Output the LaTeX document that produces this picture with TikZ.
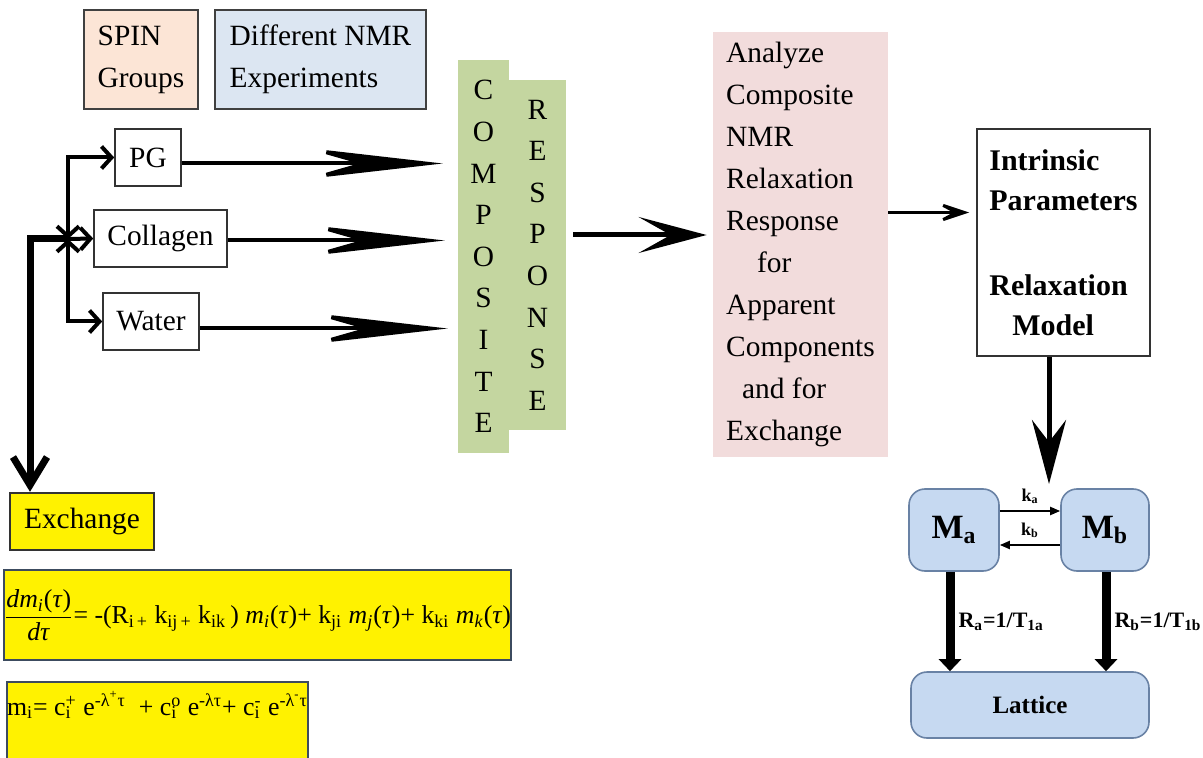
\documentclass[tikz,border=0pt]{standalone}
\usepackage{fontspec}
\setmainfont{Liberation Serif}
\usetikzlibrary{arrows.meta}

\definecolor{spinpeach}{RGB}{252,229,214}
\definecolor{nmrblue}{RGB}{220,230,242}
\definecolor{compgreen}{RGB}{196,214,160}
\definecolor{analpink}{RGB}{242,220,220}
\definecolor{magblue}{RGB}{198,217,241}
\definecolor{magedge}{RGB}{105,130,165}
\definecolor{eqedge}{RGB}{60,75,95}

\newcommand\bodyfont{\fontsize{14.7}{21}\selectfont}
\newcommand\eqfont{\fontsize{12.9}{15}\selectfont}
\newcommand\subsup[2]{\rlap{\textsubscript{#1}}\textsuperscript{#2}}

\tikzset{
  plain/.style={draw=black!80, line width=0.8pt, fill=white, inner sep=0pt, font=\bodyfont},
  headbox/.style={draw=black!75, line width=1pt, inner sep=0pt, align=left, font=\bodyfont},
  yellowbox/.style={draw=eqedge, line width=1.2pt, fill=yellow, inner sep=0pt, font=\bodyfont},
  letters/.style={fill=compgreen, inner sep=0pt, align=center, font=\fontsize{14.7}{20.8}\selectfont},
  magnet/.style={draw=magedge, line width=0.8pt, fill=magblue, rounded corners=8pt, inner sep=0pt},
  bigarrow/.style={line width=2pt, -{Stealth[length=70pt,width=16pt,inset=28pt]}},
  midarrow/.style={line width=2.5pt, -{Stealth[length=34pt,width=18pt,inset=16pt]}},
  thinarrow/.style={line width=1.5pt, -{Stealth[length=21pt,width=14pt,inset=13pt]}},
  downarrow/.style={line width=2.5pt, -{Stealth[length=32pt,width=17pt,inset=11pt]}},
  branch/.style={line width=2pt, {Straight Barb[length=5pt,width=11pt]}-{Straight Barb[length=5pt,width=11pt]}},
  trunk/.style={line width=3.5pt, -{Straight Barb[length=14pt,width=17pt]}},
  relax/.style={line width=4.5pt, -{Triangle[length=6pt,width=11pt]}},
  rate/.style={line width=1pt, -{Triangle[length=5pt,width=4pt]}}
}

\begin{document}
\begin{tikzpicture}[x=0.5pt,y=0.5pt,yscale=-1,xscale=1]
  \useasboundingbox (0,0) rectangle (1203,758);
  \clip (0,0) rectangle (1203,758);

  % Header boxes
  \node (spin) at (141,59.5) [headbox, fill=spinpeach, minimum width=57pt, minimum height=49.5pt] {SPIN\\Groups};
  \node (nmr) at (320.5,59.5) [headbox, fill=nmrblue, minimum width=105.5pt, minimum height=49.5pt] {Different NMR\\Experiments};

  % Spin groups
  \node (pg) at (148,157.5) [plain, minimum width=33pt, minimum height=28.5pt] {PG};
  \node (coll) at (160.5,238.5) [plain, minimum width=66.5pt, minimum height=28.5pt] {Collagen};
  \node (water) at (151,321.5) [plain, minimum width=48pt, minimum height=28.5pt] {Water};
  \node (exch) at (82,521.5) [yellowbox, draw=black!80, minimum width=72pt, minimum height=28.5pt] {Exchange};

  % Composite response
  \node (comp) at (483.5,256.5) [letters, minimum width=25.5pt, minimum height=196.5pt] {C\\O\\M\\P\\O\\S\\I\\T\\E};
  \node (resp) at (537.5,255) [letters, minimum width=28.5pt, minimum height=175pt] {R\\E\\S\\P\\O\\N\\S\\E};

  % Analysis
  \node (anal) at (800.5,244.5) [fill=analpink, inner sep=0pt, align=left, font=\bodyfont, minimum width=87.5pt, minimum height=212.5pt]
    {Analyze\\Composite\\NMR\\Relaxation\\Response\\\hspace*{15.5pt}for\\Apparent\\Components\\\hspace*{8pt}and for\\Exchange};
  \node (intr) at (1063.5,242.5) [plain, align=left, font=\fontsize{15}{20}\selectfont\bfseries, minimum width=86.5pt, minimum height=113.5pt]
    {Intrinsic\\Parameters\\[22.5pt]Relaxation\\\hspace*{11.5pt}Model};

  % Two-site model
  \node (ma) at (954,530) [magnet, minimum width=45pt, minimum height=41pt, font=\fontsize{17}{20}\selectfont\bfseries] {M\textsubscript{a}};
  \node (mb) at (1105,530) [magnet, minimum width=44pt, minimum height=41pt, font=\fontsize{17}{20}\selectfont\bfseries] {M\textsubscript{b}};
  \node (lat) at (1030,705) [magnet, minimum width=119pt, minimum height=33pt, font=\fontsize{12.5}{15}\selectfont\bfseries] {Lattice};

  % Equations
  \node (eq1) at (257.5,615) [yellowbox, font=\eqfont, minimum width=249.5pt, minimum height=45pt]
    {$\displaystyle\frac{\mbox{\textit{dm}\textsubscript{\textit{i}}(\textit{τ})}}{\mbox{\textit{dτ}}}$= -(R\textsubscript{i\,+} k\textsubscript{ij\,+} k\textsubscript{ik}\,) \textit{m}\textsubscript{\textit{i}}(\textit{τ})+ k\textsubscript{ji} \textit{m}\textsubscript{\textit{j}}(\textit{τ})+ k\textsubscript{ki} \textit{m}\textsubscript{\textit{k}}(\textit{τ})};
  \node (eq2) at (157.5,731) [yellowbox, font=\eqfont, minimum width=149.5pt, inner ysep=4pt, text height=12.5pt, text depth=28.5pt]
    {m\textsubscript{i}= c\subsup{i}{+} e\textsuperscript{-λ\textsuperscript{+}τ} \ + c\subsup{i}{o} e\textsuperscript{-λτ}+ c\subsup{i}{-} e\textsuperscript{-λ\textsuperscript{-}τ}};

  \coordinate (jn) at (68,239);
  \coordinate (tk) at (30,239);
  \coordinate (mdown) at (1049,484);

  %Straight Lines
  \draw [trunk] (jn) -- (tk) -- (tk |- exch.north);
  \draw [branch] (jn) |- (pg.west);
  \draw [branch] (jn) |- (water.west);
  \draw [line width=2pt, -{Straight Barb[length=5pt,width=11pt]}] (jn) -- (coll.west);

  \draw [bigarrow, shorten >=7.5pt] ([yshift=3pt]pg.east) -- ([yshift=3pt]pg.east -| comp.west);
  \draw [bigarrow, shorten >=6.5pt] ([yshift=1pt]coll.east) -- ([yshift=1pt]coll.east -| comp.west);
  \draw [bigarrow, shorten >=5pt] ([yshift=3.5pt]water.east) -- ([yshift=3.5pt]water.east -| comp.west);

  \draw [midarrow, shorten <=3.5pt, shorten >=3pt] ([yshift=-10pt]resp.east) -- ([yshift=-10pt]resp.east -| anal.west);
  \draw [thinarrow, shorten >=3.5pt] ([yshift=-15pt]intr.west -| anal.east) -- ([yshift=-15pt]intr.west);
  \draw [downarrow] (intr.south -| mdown) -- (mdown);

  \draw [rate] ([yshift=-9.5pt]ma.east) -- ([yshift=-9.5pt]mb.west) node [midway, above=3pt, font=\fontsize{9}{10}\selectfont\bfseries, inner sep=0pt] {k\textsubscript{a}};
  \draw [rate] ([yshift=7.5pt]mb.west) -- ([yshift=7.5pt]ma.east) node [midway, above=3pt, font=\fontsize{9}{10}\selectfont\bfseries, inner sep=0pt] {k\textsubscript{b}};

  \draw [relax] ([xshift=-2pt]ma.south) -- ([xshift=-2pt]ma.south |- lat.north) node [midway, right=2pt, font=\fontsize{11}{13}\selectfont\bfseries, inner sep=0pt] {R\textsubscript{a}=1/T\textsubscript{1a}};
  \draw [relax] ([xshift=0.5pt]mb.south) -- ([xshift=0.5pt]mb.south |- lat.north) node [midway, right=2pt, font=\fontsize{11}{13}\selectfont\bfseries, inner sep=0pt] {R\textsubscript{b}=1/T\textsubscript{1b}};
\end{tikzpicture}
\end{document}
